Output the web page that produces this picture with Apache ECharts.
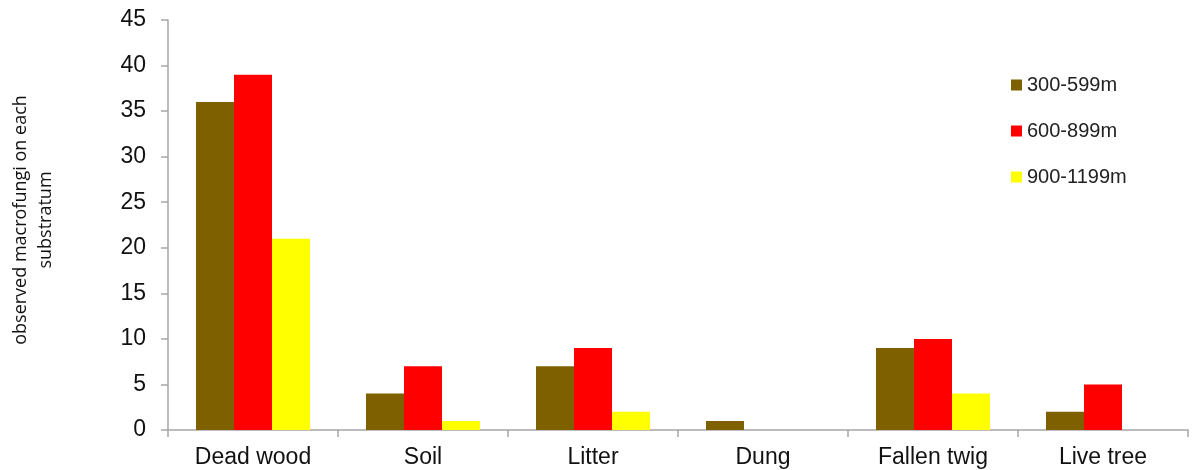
<!DOCTYPE html>
<html>
<head>
<meta charset="utf-8">
<script src="https://cdn.jsdelivr.net/npm/echarts@6/dist/echarts.min.js"></script>
<style>
  html, body { margin: 0; padding: 0; background: #fff; }
  #chart { width: 1192px; height: 470px; }
</style>
</head>
<body>
<div id="chart"></div>
<script>
// substrata and counts per elevation band
const categories = ['Dead wood', 'Soil', 'Litter', 'Dung', 'Fallen twig', 'Live tree'];
const seriesNames = ['300-599m', '600-899m', '900-1199m'];
const low = [36, 4, 7, 1, 9, 2];
const mid = [39, 7, 9, 0, 10, 5];
const high = [21, 1, 2, 0, 4, 0];
const yTicks = [0, 5, 10, 15, 20, 25, 30, 35, 40, 45];

const colors = ['#7f6000', '#ff0000', '#ffff00'];
const labelFont = 'Liberation Sans, Arial, sans-serif';

let myChart = echarts.init(document.getElementById('chart'));
myChart.setOption({
    animation: false,
    color: colors,
    grid: { left: 167, right: 4, top: 20, bottom: 40 },
    legend: {
        orient: 'vertical',
        left: 1006,
        top: 70,
        itemWidth: 11,
        itemHeight: 11,
        itemGap: 26,
        icon: 'rect',
        textStyle: { fontFamily: labelFont, fontSize: 20, color: '#222' },
        data: seriesNames
    },
    xAxis: {
        type: 'category',
        data: categories,
        axisLine: { lineStyle: { color: '#a6a6a6', width: 1.5 } },
        axisTick: { show: true, length: 7, lineStyle: { color: '#a6a6a6', width: 1.5 } },
        axisLabel: { fontFamily: labelFont, fontSize: 23, color: '#111', margin: 16, interval: 0 }
    },
    yAxis: {
        type: 'value',
        min: yTicks[0],
        max: yTicks[yTicks.length - 1],
        interval: 5,
        name: 'observed macrofungi on each\nsubstratum',
        nameLocation: 'middle',
        nameRotate: 90,
        nameGap: 110,
        nameTextStyle: { fontFamily: 'Open Sans, sans-serif', fontSize: 18, color: '#111', lineHeight: 25, align: 'center', padding: [0, 0, 0, 10] },
        axisLine: { show: true, lineStyle: { color: '#a6a6a6', width: 1.5 } },
        axisTick: { show: true, length: 7, lineStyle: { color: '#a6a6a6', width: 1.5 } },
        splitLine: { show: false },
        axisLabel: { fontFamily: labelFont, fontSize: 23, color: '#111', margin: 22 }
    },
    series: [
        { name: seriesNames[0], type: 'bar', data: low, barWidth: 38, barGap: '0%' },
        { name: seriesNames[1], type: 'bar', data: mid, barWidth: 38, barGap: '0%' },
        { name: seriesNames[2], type: 'bar', data: high, barWidth: 38, barGap: '0%' }
    ]
});
</script>
</body>
</html>
